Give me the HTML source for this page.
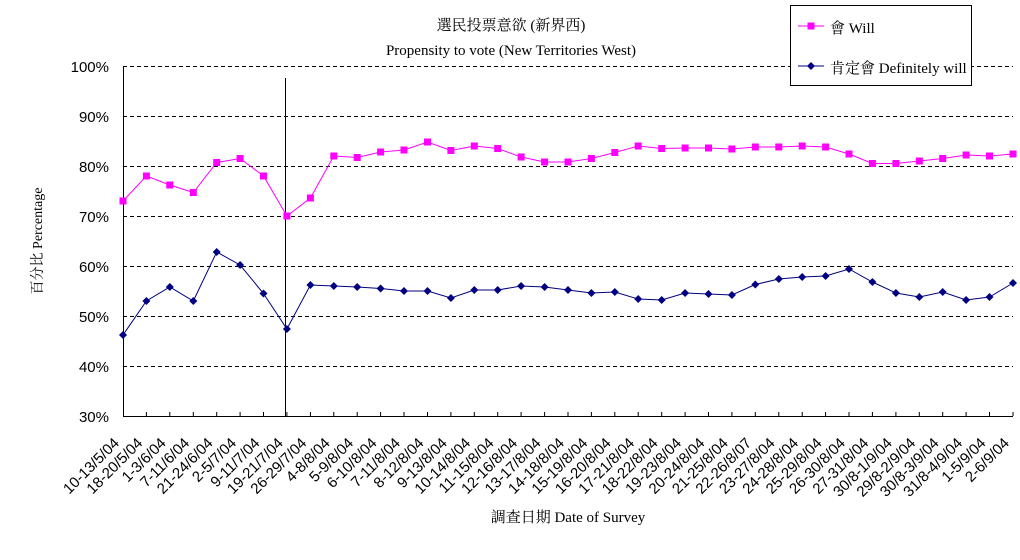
<!DOCTYPE html>
<html><head><meta charset="utf-8"><style>
html,body{margin:0;padding:0;background:#fff;}
svg{display:block;font-family:"Liberation Serif","Noto Serif CJK SC","Noto Sans CJK TC",serif;}
</style></head><body>
<svg width="1020" height="560" viewBox="0 0 1020 560" xmlns="http://www.w3.org/2000/svg">
<defs>
<marker id="sq" markerUnits="userSpaceOnUse" markerWidth="8" markerHeight="8" refX="4" refY="4"><rect x="0.5" y="0.5" width="7" height="7" fill="#FF00FF"/></marker>
<marker id="dm" markerUnits="userSpaceOnUse" markerWidth="10" markerHeight="10" refX="5" refY="5"><polygon points="5,1 9,5 5,9 1,5" fill="#000080"/></marker>
</defs>
<text x="511" y="30" font-size="15" text-anchor="middle">選民投票意欲 (新界西)</text>
<text x="511" y="55" font-size="15" text-anchor="middle">Propensity to vote (New Territories West)</text>
<g stroke="#000" stroke-width="1" stroke-dasharray="4,3">
<line x1="123" y1="66.5" x2="1013" y2="66.5"/>
<line x1="123" y1="116.5" x2="1013" y2="116.5"/>
<line x1="123" y1="166.5" x2="1013" y2="166.5"/>
<line x1="123" y1="216.5" x2="1013" y2="216.5"/>
<line x1="123" y1="266.5" x2="1013" y2="266.5"/>
<line x1="123" y1="316.5" x2="1013" y2="316.5"/>
<line x1="123" y1="366.5" x2="1013" y2="366.5"/>
</g>
<g stroke="#000" stroke-width="1">
<line x1="123.5" y1="66" x2="123.5" y2="416"/>
<line x1="123" y1="416.5" x2="1013" y2="416.5"/>
<line x1="285.5" y1="78" x2="285.5" y2="416"/>
</g>
<g font-size="15" text-anchor="end" font-family="Liberation Sans,sans-serif" fill="#000">
<text x="109" y="72">100%</text><text x="109" y="122">90%</text><text x="109" y="172">80%</text><text x="109" y="222">70%</text><text x="109" y="272">60%</text><text x="109" y="322">50%</text><text x="109" y="372">40%</text><text x="109" y="422">30%</text>
</g>
<text transform="translate(42,241) rotate(-90)" font-size="14" text-anchor="middle">百分比 Percentage</text>
<text x="568" y="522" font-size="15" text-anchor="middle">調查日期 Date of Survey</text>
<polyline fill="none" stroke="#FF00FF" stroke-width="1" marker-start="url(#sq)" marker-mid="url(#sq)" marker-end="url(#sq)" points="123,201 146.4,176 169.8,185 193.3,192.5 216.7,162.5 240.1,158.5 263.5,176 286.9,216 310.4,198 333.8,156 357.2,157.5 380.6,152 404,150 427.5,142 450.9,150.5 474.3,146 497.7,148.5 521.1,157 544.6,162 568,162 591.4,158.5 614.8,152.5 638.2,146 661.7,148.5 685.1,148 708.5,148 731.9,149 755.3,147 778.8,147 802.2,146 825.6,147 849,154 872.4,163.5 895.9,163.5 919.3,161 942.7,158.5 966.1,155 989.5,156 1013,154"/>
<polyline fill="none" stroke="#000080" stroke-width="1" marker-start="url(#dm)" marker-mid="url(#dm)" marker-end="url(#dm)" points="123,335 146.4,301 169.8,287 193.3,301 216.7,252 240.1,265 263.5,293.5 286.9,329 310.4,285 333.8,286 357.2,287 380.6,288.5 404,291 427.5,291 450.9,298 474.3,290 497.7,290 521.1,286 544.6,287 568,290 591.4,293 614.8,292 638.2,299 661.7,300 685.1,293 708.5,294 731.9,295 755.3,284.5 778.8,279 802.2,277 825.6,276 849,269 872.4,282 895.9,293 919.3,297 942.7,292 966.1,300 989.5,297 1013,283"/>
<g font-size="15" text-anchor="end" font-family="Liberation Sans,sans-serif">
<text transform="translate(120,444) rotate(-45)">10-13/5/04</text>
<text transform="translate(143.4,444) rotate(-45)">18-20/5/04</text>
<text transform="translate(166.8,444) rotate(-45)">1-3/6/04</text>
<text transform="translate(190.3,444) rotate(-45)">7-11/6/04</text>
<text transform="translate(213.7,444) rotate(-45)">21-24/6/04</text>
<text transform="translate(237.1,444) rotate(-45)">2-5/7/04</text>
<text transform="translate(260.5,444) rotate(-45)">9-11/7/04</text>
<text transform="translate(283.9,444) rotate(-45)">19-21/7/04</text>
<text transform="translate(307.4,444) rotate(-45)">26-29/7/04</text>
<text transform="translate(330.8,444) rotate(-45)">4-8/8/04</text>
<text transform="translate(354.2,444) rotate(-45)">5-9/8/04</text>
<text transform="translate(377.6,444) rotate(-45)">6-10/8/04</text>
<text transform="translate(401,444) rotate(-45)">7-11/8/04</text>
<text transform="translate(424.5,444) rotate(-45)">8-12/8/04</text>
<text transform="translate(447.9,444) rotate(-45)">9-13/8/04</text>
<text transform="translate(471.3,444) rotate(-45)">10-14/8/04</text>
<text transform="translate(494.7,444) rotate(-45)">11-15/8/04</text>
<text transform="translate(518.1,444) rotate(-45)">12-16/8/04</text>
<text transform="translate(541.6,444) rotate(-45)">13-17/8/04</text>
<text transform="translate(565,444) rotate(-45)">14-18/8/04</text>
<text transform="translate(588.4,444) rotate(-45)">15-19/8/04</text>
<text transform="translate(611.8,444) rotate(-45)">16-20/8/04</text>
<text transform="translate(635.2,444) rotate(-45)">17-21/8/04</text>
<text transform="translate(658.7,444) rotate(-45)">18-22/8/04</text>
<text transform="translate(682.1,444) rotate(-45)">19-23/8/04</text>
<text transform="translate(705.5,444) rotate(-45)">20-24/8/04</text>
<text transform="translate(728.9,444) rotate(-45)">21-25/8/04</text>
<text transform="translate(752.3,444) rotate(-45)">22-26/8/07</text>
<text transform="translate(775.8,444) rotate(-45)">23-27/8/04</text>
<text transform="translate(799.2,444) rotate(-45)">24-28/8/04</text>
<text transform="translate(822.6,444) rotate(-45)">25-29/8/04</text>
<text transform="translate(846,444) rotate(-45)">26-30/8/04</text>
<text transform="translate(869.4,444) rotate(-45)">27-31/8/04</text>
<text transform="translate(892.9,444) rotate(-45)">30/8-1/9/04</text>
<text transform="translate(916.3,444) rotate(-45)">29/8-2/9/04</text>
<text transform="translate(939.7,444) rotate(-45)">30/8-3/9/04</text>
<text transform="translate(963.1,444) rotate(-45)">31/8-4/9/04</text>
<text transform="translate(986.5,444) rotate(-45)">1-5/9/04</text>
<text transform="translate(1010,444) rotate(-45)">2-6/9/04</text>
</g>
<g stroke="#000" stroke-width="1">
<path d="M146.4,416V412M169.8,416V412M193.3,416V412M216.7,416V412M240.1,416V412M263.5,416V412M286.9,416V412M310.4,416V412M333.8,416V412M357.2,416V412M380.6,416V412M404,416V412M427.5,416V412M450.9,416V412M474.3,416V412M497.7,416V412M521.1,416V412M544.6,416V412M568,416V412M591.4,416V412M614.8,416V412M638.2,416V412M661.7,416V412M685.1,416V412M708.5,416V412M731.9,416V412M755.3,416V412M778.8,416V412M802.2,416V412M825.6,416V412M849,416V412M872.4,416V412M895.9,416V412M919.3,416V412M942.7,416V412M966.1,416V412M989.5,416V412M1013,416V412"/>
</g>
<rect x="790.5" y="5.5" width="181" height="80" fill="#fff" stroke="#000" stroke-width="1"/>
<line x1="798" y1="26" x2="824" y2="26" stroke="#FF00FF" stroke-width="1"/>
<rect x="807.5" y="22.5" width="7" height="7" fill="#FF00FF"/>
<line x1="798" y1="66" x2="824" y2="66" stroke="#000080" stroke-width="1"/>
<polygon points="811,62 815,66 811,70 807,66" fill="#000080"/>
<text x="830" y="33" font-size="15">會 Will</text>
<text x="830" y="73" font-size="15">肯定會 Definitely will</text>
</svg>
</body></html>
